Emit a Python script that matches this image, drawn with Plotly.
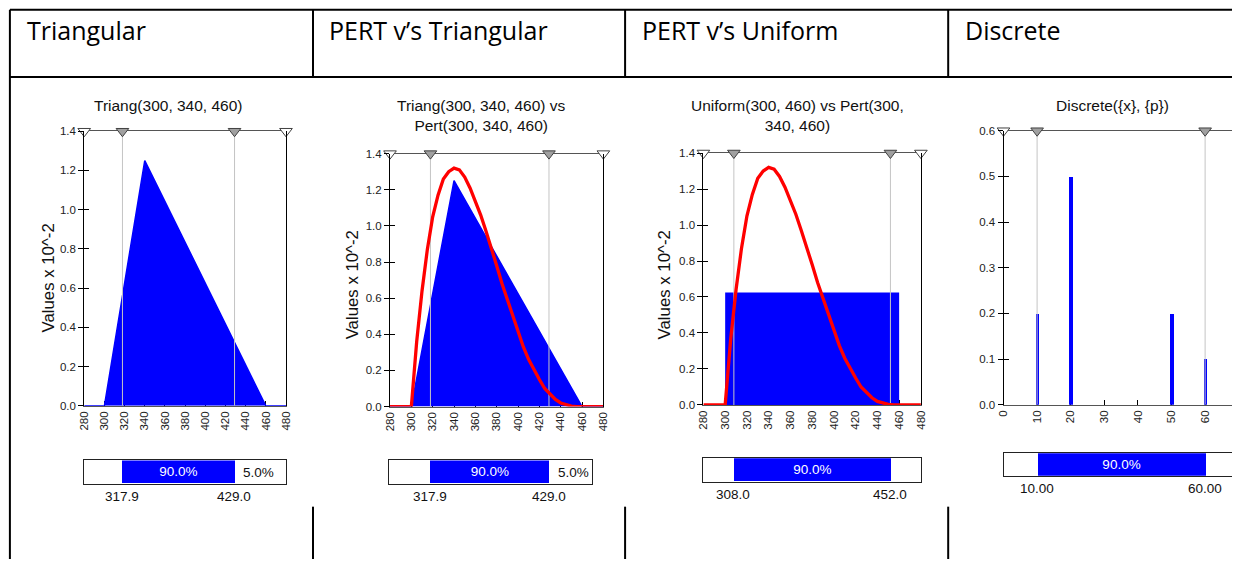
import plotly.graph_objects as go

W, H = 1238, 565
# measured screen transform of the harness (screen = S*fig + O); positions below are reference pixels
SX, OX, SY, OY = 0.990, 6.1, 0.975, 6.25
def px(sx): return ((sx - OX) / SX) / W
def py(sy): return 1 - ((sy - OY) / SY) / H

# ---------------- data ----------------
headers = ["Triangular", "PERT v\u2019s Triangular", "PERT v\u2019s Uniform", "Discrete"]
titles = ["Triang(300, 340, 460)",
          "Triang(300, 340, 460) vs<br>Pert(300, 340, 460)",
          "Uniform(300, 460) vs Pert(300,<br>340, 460)",
          "Discrete({x}, {p})"]

tri_x = [280, 300, 340, 460, 480]
tri_y = [0, 0, 1.25, 0, 0]

pert_x = [280, 290, 300, 305, 310, 315, 320, 325, 330, 335, 340, 345, 350, 355, 360,
          365, 370, 375, 380, 385, 390, 395, 400, 405, 410, 415, 420, 425, 430, 435,
          440, 445, 450, 455, 460, 470, 480]
pert_y = [0, 0, 0, 0.36, 0.64, 0.87, 1.05, 1.17, 1.26, 1.30, 1.32, 1.31, 1.27, 1.21, 1.14,
          1.06, 0.97, 0.88, 0.78, 0.68, 0.59, 0.50, 0.41, 0.33, 0.26, 0.20, 0.15, 0.10, 0.07, 0.04,
          0.02, 0.01, 0.003, 0.0, 0, 0, 0]

uni_x = [300, 460]
uni_y = [0.625, 0.625]

disc_x = [10, 20, 50, 60]
disc_p = [0.2, 0.5, 0.2, 0.1]

p_low = [317.9, 317.9, 308.0, 10.0]
p_high = [429.0, 429.0, 452.0, 60.0]
p_low_lbl = ["317.9", "317.9", "308.0", "10.00"]
p_high_lbl = ["429.0", "429.0", "452.0", "60.00"]
mid_pct = ["90.0%", "90.0%", "90.0%", "90.0%"]
right_pct = ["5.0%", "5.0%", "", ""]

x_bounds = [[280, 480], [280, 480], [280, 480], [0, 70]]
y_ranges = [[0, 1.4], [0, 1.4], [0, 1.4], [0, 0.6]]
x_dtick = [20, 20, 20, 10]
y_dtick = [0.2, 0.2, 0.2, 0.1]

# ---------------- layout geometry (reference pixels) ----------------
plot_box = [(84.3, 286, 131, 404.5), (390, 603.3, 153.3, 405.3),
            (703.3, 920.7, 152.7, 403.7), (1003.3, 1238, 130.5, 403.5)]
x_view = [[280, 480], [280, 480], [280, 480], [0, 68]]
bar_box = [(84, 286, 459, 482), (389.3, 591.7, 459, 482.3),
           (702.7, 920.7, 456.7, 480), (1003.3, 1238, 451.7, 474.3)]
bar_range = [[280, 480], [279.3, 469.3], [280, 480], [0, 68]]
lbl_y = [495, 495, 493, 487]
title_pos = [(169, 105), (481, 115.3), (797.5, 115.3), (1112.5, 105)]
ytitle_pos = [(48.8, 277), (352.5, 284), (664, 284.5), None]

BLUE = "#0000FF"
RED = "#FF0000"
GRID = "#c4c4c4"
FONT = "Liberation Sans"

fig = go.Figure()
layout = dict(width=W, height=H, margin=dict(l=0, r=0, t=0, b=0, pad=0), autosize=False,
              paper_bgcolor="white", plot_bgcolor="white", showlegend=False,
              bargap=0, annotations=[], shapes=[])

for i in range(4):
    n = i + 1
    xa, ya = f"x{n}", f"y{n}"
    x0, x1, yt, yb = plot_box[i]
    ymax = y_ranges[i][1]
    if i in (0, 1):
        fig.add_trace(go.Scatter(x=tri_x, y=tri_y, mode="lines", fill="tozeroy",
                                 fillcolor=BLUE, line=dict(color=BLUE, width=1.5),
                                 xaxis=xa, yaxis=ya, hoverinfo="skip"))
    if i == 2:
        fig.add_trace(go.Scatter(x=uni_x, y=uni_y, mode="lines", fill="tozeroy",
                                 fillcolor=BLUE, line=dict(color=BLUE, width=0),
                                 xaxis=xa, yaxis=ya, hoverinfo="skip"))
    for v in (p_low[i], p_high[i]):
        fig.add_trace(go.Scatter(x=[v, v], y=[0, ymax], mode="lines",
                                 line=dict(color=GRID, width=1), xaxis=xa, yaxis=ya,
                                 hoverinfo="skip"))
    if i == 3:
        fig.add_trace(go.Bar(x=disc_x, y=disc_p, width=1.1, marker=dict(color=BLUE, line=dict(width=0)),
                             xaxis=xa, yaxis=ya, hoverinfo="skip"))
    if i in (1, 2):
        fig.add_trace(go.Scatter(x=pert_x, y=pert_y, mode="lines",
                                 line=dict(color=RED, width=3.3), xaxis=xa, yaxis=ya,
                                 hoverinfo="skip"))
    fig.add_trace(go.Scatter(x=[x_bounds[i][0], p_low[i], p_high[i], x_bounds[i][1]],
                             y=[ymax] * 4, mode="markers", cliponaxis=False,
                             marker=dict(symbol="triangle-down", size=11,
                                         color=["white", "#a0a0a0", "#a0a0a0", "white"],
                                         line=dict(color="#404040", width=1)),
                             xaxis=xa, yaxis=ya, hoverinfo="skip"))

    layout[f"xaxis{n}"] = dict(domain=[px(x0), min(1.0, px(x1))], range=x_view[i], anchor=ya,
                               tickmode="linear", tick0=x_bounds[i][0], dtick=x_dtick[i],
                               ticks="inside", ticklen=5, tickcolor="black", tickangle=-90,
                               tickfont=dict(family=FONT, size=11.5, color="#222"),
                               showline=True, mirror=True, linecolor="#555", linewidth=1,
                               showgrid=False, zeroline=False, layer="below traces")
    layout[f"yaxis{n}"] = dict(domain=[py(yb), py(yt)], range=y_ranges[i], anchor=xa,
                               tickmode="linear", tick0=0, dtick=y_dtick[i], tickformat=".1f",
                               ticks="outside", ticklen=5, tickcolor="black",
                               tickfont=dict(family=FONT, size=11.5, color="#222"),
                               showline=True, mirror=(i != 3), linecolor="black", linewidth=1,
                               showgrid=False, zeroline=False)
    # overlay axis giving the inner half of the crossing y ticks
    on = i + 9
    layout[f"yaxis{on}"] = dict(overlaying=ya, anchor=xa, side="left", range=y_ranges[i],
                                tickmode="linear", tick0=0, dtick=y_dtick[i],
                                ticks="inside", ticklen=5, tickcolor="black",
                                showticklabels=False, showline=False, showgrid=False,
                                zeroline=False)
    fig.add_trace(go.Scatter(x=[x_bounds[i][0]], y=[0], mode="markers", marker=dict(opacity=0),
                             xaxis=xa, yaxis=f"y{on}", hoverinfo="skip"))

    bn = i + 5
    bx0, bx1, byt, byb = bar_box[i]
    bxa, bya = f"x{bn}", f"y{bn}"
    fig.add_trace(go.Bar(y=[0], x=[p_high[i] - p_low[i]], base=[p_low[i]], orientation="h",
                         width=[1], marker=dict(color=BLUE, line=dict(width=0)),
                         text=[mid_pct[i]], textposition="inside", insidetextanchor="middle",
                         textfont=dict(family=FONT, size=13.5, color="white"),
                         xaxis=bxa, yaxis=bya, hoverinfo="skip"))
    layout[f"xaxis{bn}"] = dict(domain=[px(bx0), min(1.0, px(bx1))], range=bar_range[i], anchor=bya,
                                showticklabels=False, ticks="", showgrid=False, zeroline=False,
                                showline=True, mirror=True, linecolor="#222", linewidth=1)
    layout[f"yaxis{bn}"] = dict(domain=[py(byb), py(byt)], range=[-0.5, 0.5], anchor=bxa,
                                showticklabels=False, ticks="", showgrid=False, zeroline=False,
                                showline=True, mirror=(i != 3), linecolor="#222", linewidth=1)
    if right_pct[i]:
        layout["annotations"].append(dict(x=p_high[i], y=0, xref=bxa, yref=bya, xshift=7,
                                          text=right_pct[i], showarrow=False,
                                          xanchor="left", yanchor="middle",
                                          font=dict(family=FONT, size=13.5, color="#111")))
    for v, t in ((p_low[i], p_low_lbl[i]), (p_high[i], p_high_lbl[i])):
        layout["annotations"].append(dict(x=v, xref=bxa, y=py(lbl_y[i]), yref="paper",
                                          text=t, showarrow=False, xanchor="center", yanchor="middle",
                                          font=dict(family=FONT, size=13.5, color="#111")))
    tx, ty = title_pos[i]
    layout["annotations"].append(dict(x=px(tx), y=py(ty), xref="paper", yref="paper",
                                      text=titles[i], showarrow=False, xanchor="center",
                                      yanchor="middle",
                                      font=dict(family=FONT, size=15.5, color="#111")))
    if ytitle_pos[i]:
        ax, ay = ytitle_pos[i]
        layout["annotations"].append(dict(x=px(ax), y=py(ay), xref="paper", yref="paper",
                                          text="Values x 10^-2", textangle=-90, showarrow=False,
                                          xanchor="center", yanchor="middle",
                                          font=dict(family=FONT, size=16.8, color="#111")))

head_x = [25, 327, 640, 963]
for hx, ht in zip(head_x, headers):
    layout["annotations"].append(dict(x=px(hx), y=py(30), xref="paper", yref="paper",
                                      text=ht, showarrow=False, xanchor="left", yanchor="middle",
                                      font=dict(family="Open Sans", size=25, color="black")))

def hline(x0, x1, y):
    return dict(type="line", xref="paper", yref="paper", x0=max(0, px(x0)), x1=min(1, px(x1)),
                y0=py(y), y1=py(y), line=dict(color="black", width=2), layer="above")
def vline(x, y0, y1):
    return dict(type="line", xref="paper", yref="paper", x0=px(x), x1=px(x),
                y0=min(1, py(y0)), y1=max(0, py(y1)), line=dict(color="black", width=2), layer="above")

layout["shapes"] += [hline(10, 1240, 10), hline(10, 1240, 77),
                     vline(10, 10, 570), vline(313, 10, 77), vline(625, 10, 77), vline(948, 10, 77),
                     vline(313, 505, 570), vline(625, 505, 570), vline(948, 505, 570)]

fig.update_layout(**layout)
fig.write_html("out.html", config={"displayModeBar": False},
               post_script="document.body.style.margin='0';document.body.style.overflow='hidden';")
